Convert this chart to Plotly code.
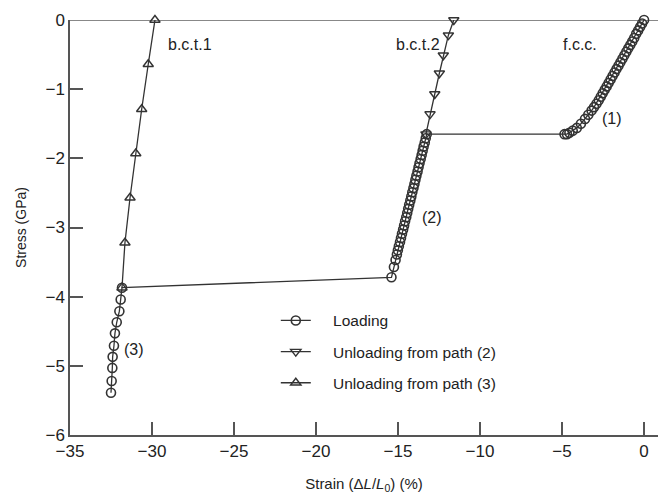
import plotly.graph_objects as go

# Loading path: (1) f.c.c. branch, jump, (2) b.c.t.2 branch, jump, (3) branch
load_x = [0.0, -0.12, -0.24, -0.36, -0.48, -0.60, -0.72, -0.84, -0.96, -1.08,
          -1.20, -1.32, -1.44, -1.56, -1.68, -1.80, -1.92, -2.04, -2.16, -2.28,
          -2.40, -2.52, -2.64, -2.76, -2.90, -3.05, -3.20, -3.40, -3.60, -3.85,
          -4.10, -4.35, -4.55, -4.70, -4.85,
          -13.25, -13.31, -13.37, -13.44, -13.50, -13.56, -13.62, -13.69, -13.75, -13.81,
          -13.88, -13.94, -14.00, -14.06, -14.13, -14.19, -14.25, -14.32, -14.38, -14.44,
          -14.50, -14.57, -14.63, -14.69, -14.76, -14.82, -14.88, -14.95, -15.01, -15.07,
          -15.15, -15.25, -15.40,
          -31.83, -31.91, -31.99, -32.15, -32.26, -32.32, -32.40, -32.42, -32.46, -32.50]
load_y = [0.0, -0.05, -0.10, -0.15, -0.20, -0.26, -0.31, -0.36, -0.41, -0.46,
          -0.51, -0.56, -0.61, -0.66, -0.71, -0.76, -0.81, -0.86, -0.91, -0.96,
          -1.01, -1.06, -1.11, -1.16, -1.21, -1.26, -1.31, -1.37, -1.43, -1.50,
          -1.56, -1.60, -1.63, -1.65, -1.65,
          -1.65, -1.71, -1.77, -1.83, -1.89, -1.95, -2.01, -2.07, -2.13, -2.19,
          -2.25, -2.31, -2.37, -2.43, -2.49, -2.55, -2.61, -2.67, -2.73, -2.79,
          -2.85, -2.91, -2.97, -3.03, -3.09, -3.15, -3.21, -3.27, -3.33, -3.39,
          -3.47, -3.57, -3.72,
          -3.87, -4.04, -4.21, -4.37, -4.53, -4.71, -4.87, -5.03, -5.22, -5.39]

# Unloading from path (2)
unl2_x = [-13.30, -13.05, -12.76, -12.48, -12.24, -11.93, -11.60]
unl2_y = [-1.65, -1.36, -1.07, -0.77, -0.51, -0.22, 0.0]

# Unloading from path (3)
unl3_x = [-31.83, -31.65, -31.34, -30.99, -30.63, -30.23, -29.82]
unl3_y = [-3.87, -3.22, -2.57, -1.93, -1.29, -0.64, 0.0]

# Labels
label_text = ["b.c.t.1", "b.c.t.2", "f.c.c.", "(1)", "(2)", "(3)"]
label_x = [-27.7, -13.8, -3.9, -1.95, -12.9, -31.1]
label_y = [-0.36, -0.36, -0.36, -1.42, -2.86, -4.77]

series_names = ["Loading", "Unloading from path (2)", "Unloading from path (3)"]

x_ticks = [-35, -30, -25, -20, -15, -10, -5, 0]
y_ticks = [-6, -5, -4, -3, -2, -1, 0]

FONT = "Liberation Sans, Arial, sans-serif"
LC = "#333333"
PAD = "\u00a0" * 4

fig = go.Figure()
fig.add_trace(go.Scatter(
    x=load_x, y=load_y, mode="lines+markers", name=PAD + series_names[0],
    line=dict(color=LC, width=1.3),
    marker=dict(symbol="circle-open", size=9, color=LC, line=dict(width=1.6)),
    cliponaxis=False, legendgroup="a"))
fig.add_trace(go.Scatter(
    x=unl2_x, y=unl2_y, mode="lines+markers", name=PAD + series_names[1],
    line=dict(color=LC, width=1.3),
    marker=dict(symbol="triangle-down-open", size=9, color=LC, line=dict(width=1.4)),
    cliponaxis=False, legendgroup="b"))
fig.add_trace(go.Scatter(
    x=unl3_x, y=unl3_y, mode="lines+markers", name=PAD + series_names[2],
    line=dict(color=LC, width=1.3),
    marker=dict(symbol="triangle-up-open", size=9, color=LC, line=dict(width=1.4)),
    cliponaxis=False, legendgroup="c"))

for t, x, y in zip(label_text, label_x, label_y):
    fig.add_annotation(x=x, y=y, text=t, showarrow=False,
                       font=dict(family=FONT, size=16, color="#222"))

fig.add_shape(type="line", xref="paper", yref="y", x0=0, x1=1, y0=0, y1=0,
              line=dict(color="#888", width=2), layer="below")

neg = lambda v: str(v).replace("-", "\u2212")

fig.update_layout(
    width=659, height=497,
    margin=dict(l=70, r=1, t=20, b=62),
    paper_bgcolor="white", plot_bgcolor="white",
    font=dict(family=FONT, size=16, color="#222"),
    showlegend=True,
    legend=dict(x=0.35, y=0.316, xanchor="left", yanchor="top",
                bgcolor="rgba(0,0,0,0)", font=dict(family=FONT, size=15.5, color="#222"),
                tracegroupgap=8),
    xaxis=dict(range=[-35, 0.85], tickvals=x_ticks, ticktext=[neg(v) for v in x_ticks],
               ticks="inside", ticklen=13, tickcolor="#555", tickwidth=1.5,
               showline=True, linecolor="#555", linewidth=1.5, showgrid=False, zeroline=False,
               tickfont=dict(family=FONT, size=17, color="#222"),
               title=dict(text="Strain (\u0394<i>L</i>/<i>L</i><sub>0</sub>) (%)",
                          font=dict(family=FONT, size=15, color="#222"), standoff=18)),
    yaxis=dict(range=[-6, 0], tickvals=y_ticks, ticktext=[neg(v) for v in y_ticks],
               ticks="inside", ticklen=13, tickcolor="#555", tickwidth=1.5,
               showline=True, linecolor="#555", linewidth=1.5, showgrid=False, zeroline=False,
               tickfont=dict(family=FONT, size=17, color="#222"),
               title=dict(text="Stress (GPa)", font=dict(family=FONT, size=14, color="#222"), standoff=16)),
)

fig.write_html("out.html", config={"displayModeBar": False},
               post_script="document.body.style.margin='0px';")
